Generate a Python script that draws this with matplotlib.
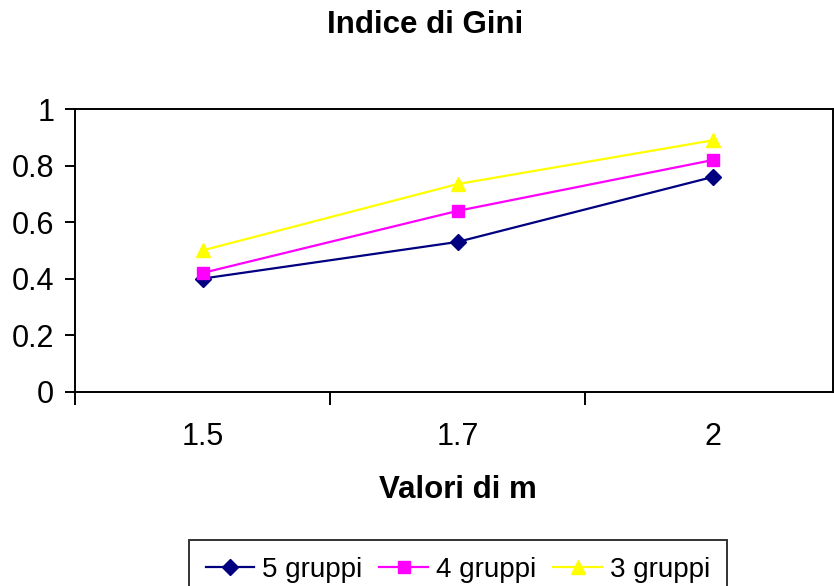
import matplotlib
matplotlib.use("Agg")
from matplotlib import pyplot as plt

plt.rcParams['font.family'] = ['Liberation Sans', 'DejaVu Sans']

categories = ["1.5", "1.7", "2"]
gruppi_5 = [0.40, 0.53, 0.76]
gruppi_4 = [0.42, 0.64, 0.82]
gruppi_3 = [0.50, 0.735, 0.89]

W, H = 834, 586
fig = plt.figure(figsize=(W / 100, H / 100), dpi=100)
ax = fig.add_axes([75 / W, 1 - 391.5 / H, (833 - 75) / W, (391.5 - 109.3) / H])

x = list(range(len(categories)))
ax.plot(x, gruppi_5, color="#000080", marker="D", markersize=8, lw=1.6, label="5 gruppi")
ax.plot(x, gruppi_4, color="#FF00FF", marker="s", markersize=9, lw=1.6, label="4 gruppi")
ax.plot(x, gruppi_3, color="#FFFF00", marker="^", markersize=10, lw=1.6, label="3 gruppi")

ax.set_xlim(-0.5, (833 - 75) / 255 - 0.5)
ax.set_ylim(0, 1)
ax.set_yticks([0, 0.2, 0.4, 0.6, 0.8, 1])
ax.set_yticklabels(["0", "0.2", "0.4", "0.6", "0.8", "1"], fontsize=22)
ax.set_xticks([-0.5, 0.5, 1.5])
ax.set_xticklabels([])
ax.set_xticks(x, minor=True)
ax.set_xticklabels(categories, minor=True, fontsize=22)
ax.tick_params(axis="x", which="major", length=9, width=1.4, direction="out")
ax.tick_params(axis="x", which="minor", length=0, pad=22)
ax.tick_params(axis="y", length=7, width=1.4, direction="out", pad=8)
for s in ax.spines.values():
    s.set_linewidth(1.4)

fig.text(425 / W, 1 - 25 / H, "Indice di Gini", ha="center", va="center",
         fontsize=22.5, fontweight="bold")
fig.text(458 / W, 1 - 490 / H, "Valori di m", ha="center", va="center",
         fontsize=22.5, fontweight="bold")

leg = fig.legend(loc="upper center", bbox_to_anchor=(458 / W, 1 - 540 / H), ncol=3,
                 fontsize=20, frameon=True, fancybox=False, edgecolor="black",
                 handlelength=1.75, handletextpad=0.3, columnspacing=0.6,
                 borderpad=0.6, borderaxespad=0)
leg.get_frame().set_linewidth(1.4)

fig.savefig("out.png", dpi=100)
